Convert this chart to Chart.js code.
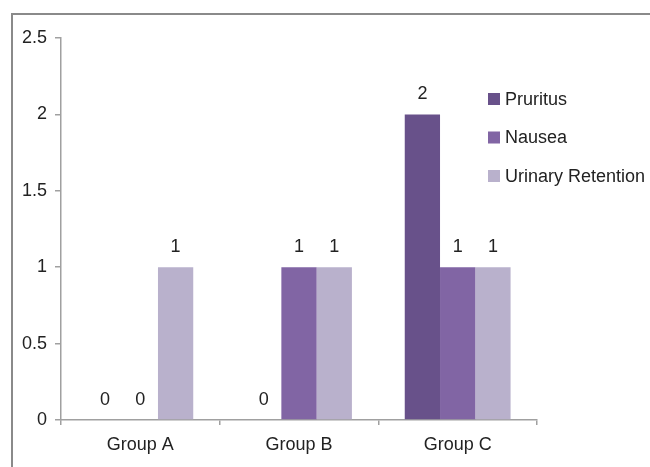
<!DOCTYPE html>
<html>
<head>
<meta charset="utf-8">
<script src="https://cdn.jsdelivr.net/npm/chart.js@4/dist/chart.umd.min.js"></script>
<style>
  html, body { margin: 0; padding: 0; background: #fff; }
  #wrap { width: 650px; height: 467px; position: relative; }
</style>
</head>
<body>
<div id="wrap"><canvas id="c" width="650" height="467"></canvas></div>
<script>
// Adverse events per group
const categories = ['Group A', 'Group B', 'Group C'];
const seriesNames = ['Pruritus', 'Nausea', 'Urinary Retention'];
const pruritus = [0, 0, 2];
const nausea = [0, 1, 1];
const urinaryRetention = [1, 1, 1];
const seriesColors = ['#68518a', '#8165a4', '#b9b1cc'];

const FONT = 'Liberation Sans, Arial, sans-serif';
const FONT_SIZE = 18;
const TEXT = '#222222';
const AXIS = '#a0a0a0';

// Frame around the figure
const framePlugin = {
  id: 'frame',
  beforeDraw(chart) {
    const ctx = chart.ctx;
    ctx.save();
    ctx.fillStyle = '#ffffff';
    ctx.fillRect(0, 0, chart.width, chart.height);
    ctx.strokeStyle = '#8a8a8a';
    ctx.lineWidth = 2;
    ctx.strokeRect(12, 14, chart.width + 20, chart.height + 20);
    ctx.restore();
  }
};

// Value labels above each bar
const valueLabels = {
  id: 'valueLabels',
  afterDatasetsDraw(chart) {
    const ctx = chart.ctx;
    ctx.save();
    ctx.font = FONT_SIZE + 'px ' + FONT;
    ctx.fillStyle = TEXT;
    ctx.textAlign = 'center';
    ctx.textBaseline = 'alphabetic';
    chart.data.datasets.forEach((ds, i) => {
      chart.getDatasetMeta(i).data.forEach((bar, j) => {
        ctx.fillText(String(ds.data[j]), bar.x, bar.y - 15);
      });
    });
    ctx.restore();
  }
};

// Legend stacked on the right
const sideLegend = {
  id: 'sideLegend',
  afterDraw(chart) {
    const ctx = chart.ctx;
    ctx.save();
    ctx.font = FONT_SIZE + 'px ' + FONT;
    ctx.textBaseline = 'middle';
    ctx.textAlign = 'left';
    chart.data.datasets.forEach((ds, i) => {
      const cy = 99 + i * 38.5;
      ctx.fillStyle = ds.backgroundColor;
      ctx.fillRect(488, cy - 6, 12, 12);
      ctx.fillStyle = TEXT;
      ctx.fillText(ds.label, 505, cy + 1);
    });
    ctx.restore();
  }
};

new Chart(document.getElementById('c'), {
  type: 'bar',
  data: {
    labels: categories,
    datasets: [
      { label: seriesNames[0], data: pruritus, backgroundColor: seriesColors[0] },
      { label: seriesNames[1], data: nausea, backgroundColor: seriesColors[1] },
      { label: seriesNames[2], data: urinaryRetention, backgroundColor: seriesColors[2] }
    ]
  },
  options: {
    responsive: false,
    animation: false,
    layout: { padding: { top: 38, right: 113, bottom: 0, left: 0 } },
    datasets: { bar: { categoryPercentage: 0.667, barPercentage: 1.0, borderWidth: 0 } },
    plugins: {
      legend: { display: false },
      tooltip: { enabled: false }
    },
    scales: {
      x: {
        afterFit(scale) { scale.height = 47; },
        grid: { offset: true, drawOnChartArea: false, drawTicks: true, tickLength: 5, color: AXIS, lineWidth: 1.5 },
        border: { color: AXIS, width: 1.5 },
        ticks: { color: TEXT, font: { family: FONT, size: FONT_SIZE }, padding: 9 }
      },
      y: {
        min: 0,
        max: 2.5,
        afterFit(scale) { scale.width = 61; },
        grid: { drawOnChartArea: false, drawTicks: true, tickLength: 6, color: AXIS, lineWidth: 1.5 },
        border: { color: AXIS, width: 1.5 },
        ticks: {
          stepSize: 0.5,
          color: TEXT,
          font: { family: FONT, size: FONT_SIZE },
          padding: 8,
          callback: (v) => String(v)
        }
      }
    }
  },
  plugins: [framePlugin, valueLabels, sideLegend]
});
</script>
</body>
</html>
